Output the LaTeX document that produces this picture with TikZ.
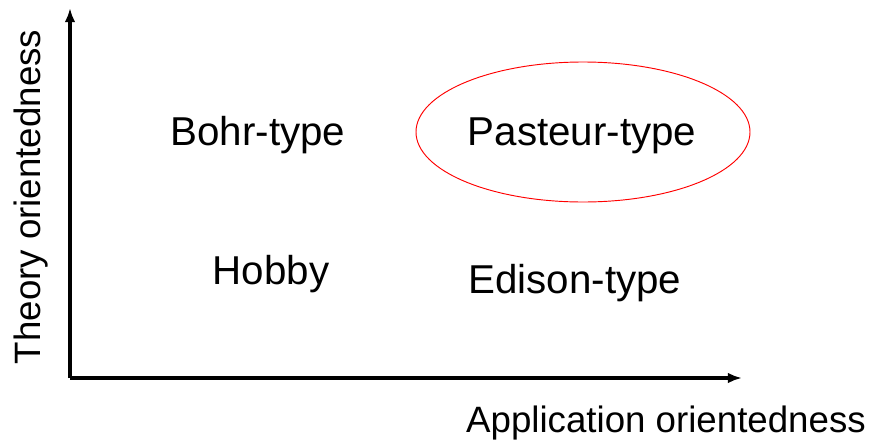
\documentclass[tikz,border=0pt]{standalone}
\usepackage{fontspec}
\setmainfont{Liberation Sans}
\usetikzlibrary{arrows.meta}
\begin{document}
\begin{tikzpicture}[x=0.03cm,y=-0.03cm,
    quad/.style={anchor=base,inner sep=0pt,font=\fontsize{34.4}{40}\selectfont},
    axlabel/.style={anchor=base,inner sep=0pt,font=\fontsize{31.3}{36}\selectfont},
    axis/.style={line width=2.6pt,-{Latex[length=12pt,width=9pt]}}]
    \useasboundingbox (0,0) rectangle (870,445);
    \coordinate (o) at (70,378);
    \coordinate (ytip) at (70,8);
    \coordinate (xtip) at (742,378);
    \draw [axis] (o) -- (ytip);
    \draw [axis] (o) -- (xtip);
    \node [quad] (bohr) at (258,145) {Bohr-type};
    \node [quad] (pasteur) at (582,145) {Pasteur-type};
    \node [quad] (hobby) at (271,284) {Hobby};
    \node [quad] (edison) at (575,293) {Edison-type};
    \draw [red,line width=0.8pt] (583,132) ellipse (167 and 70);
    \node [axlabel] (xlab) at (666,432) {Application orientedness};
    \node [axlabel,rotate=90] (ylab) at (40,197) {Theory orientedness};
\end{tikzpicture}
\end{document}
